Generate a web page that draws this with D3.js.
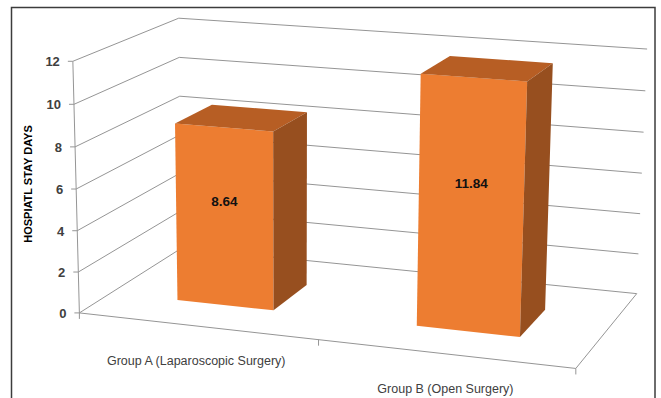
<!DOCTYPE html>
<html>
<head>
<meta charset="utf-8">
<script src="https://cdn.jsdelivr.net/npm/d3@7"></script>
<style>
  body { margin: 0; background: #fff; }
  svg { display: block; }
</style>
</head>
<body>
<script>
// ---- data ----
const categories = ["Group A (Laparoscopic Surgery)", "Group B (Open Surgery)"];
const stayDays = [8.64, 11.84];
const tickValues = [0, 2, 4, 6, 8, 10, 12];
const tickLabels = ["0", "2", "4", "6", "8", "10", "12"];
const axisTitle = "HOSPIATL STAY DAYS";

const W = 661, H = 398;
const svg = d3.select("body").append("svg").attr("width", W).attr("height", H);

// ---- perspective camera ----
// Plot box in normalised coordinates: u across, v up, w into the page.
// Each pair gives a box corner and where it sits on the page.
const anchors = [
  [[0, 0, 0], [81, 312]],
  [[0, 1, 0], [72, 62]],
  [[0, 0, 1], [180, 249]],
  [[0, 1, 1], [180, 18]],
  [[1, 0, 1], [637, 293]],
  [[1, 1, 1], [647, 49]],
  [[1, 0, 0], [576, 369]],
  [[0, 10 / 12, 0], [73, 104]],
  [[0, 10 / 12, 1], [180, 57]],
  [[1, 10 / 12, 1], [645, 91]]
];

function solveLinear(A, b) {
  const n = b.length;
  const M = A.map((r, i) => [...r, b[i]]);
  for (let c = 0; c < n; c++) {
    let p = c;
    for (let r = c + 1; r < n; r++) if (Math.abs(M[r][c]) > Math.abs(M[p][c])) p = r;
    [M[c], M[p]] = [M[p], M[c]];
    for (let r = 0; r < n; r++) {
      if (r === c) continue;
      const f = M[r][c] / M[c][c];
      for (let k = c; k <= n; k++) M[r][k] -= f * M[c][k];
    }
  }
  return M.map((r, i) => r[n] / r[i]);
}

// Least-squares 3x4 projection matrix (last entry fixed to 1)
function fitCamera(pts) {
  const rows = [], rhs = [];
  pts.forEach(([[u, v, w], [px, py]]) => {
    rows.push([u, v, w, 1, 0, 0, 0, 0, -px * u, -px * v, -px * w]); rhs.push(px);
    rows.push([0, 0, 0, 0, u, v, w, 1, -py * u, -py * v, -py * w]); rhs.push(py);
  });
  const n = 11;
  const AtA = Array.from({ length: n }, () => new Array(n).fill(0));
  const Atb = new Array(n).fill(0);
  rows.forEach((r, i) => {
    for (let a = 0; a < n; a++) {
      Atb[a] += r[a] * rhs[i];
      for (let b = 0; b < n; b++) AtA[a][b] += r[a] * r[b];
    }
  });
  return solveLinear(AtA, Atb);
}
const m = fitCamera(anchors);
function P(u, v, w) {
  const d = m[8] * u + m[9] * v + m[10] * w + 1;
  return [(m[0] * u + m[1] * v + m[2] * w + m[3]) / d,
          (m[4] * u + m[5] * v + m[6] * w + m[7]) / d];
}

// ---- scales ----
const yScale = d3.scaleLinear().domain([0, 12]).range([0, 1]);
const xScale = d3.scaleBand().domain(categories).range([0, 1])
  .paddingInner(0.59).paddingOuter(0.29);
const depth = [0.29, 0.66];

const line = d3.line();
const gridColor = "#959595";

// ---- walls: gridlines on side and back walls ----
const grid = svg.append("g").attr("fill", "none").attr("stroke", gridColor).attr("stroke-width", 1);
tickValues.forEach(t => {
  const v = yScale(t);
  grid.append("path").attr("d", line([P(0, v, 0), P(0, v, 1), P(1, v, 1)]));
});
// floor outline and value axis
grid.append("path").attr("d", line([P(0, 0, 0), P(1, 0, 0), P(1, 0, 1)]));
grid.append("path").attr("d", line([P(0, 0, 0), P(0, 1, 0)]));
// value axis ticks
tickValues.forEach(t => {
  const p = P(0, yScale(t), 0);
  grid.append("path").attr("d", line([[p[0] - 5, p[1]], p]));
});
// category boundary ticks
d3.range(categories.length + 1).forEach(i => {
  const p = P(i / categories.length, 0, 0);
  grid.append("path").attr("d", line([p, [p[0], p[1] + 6]]));
});

// ---- tick labels ----
const tickG = svg.append("g")
  .attr("font-family", "'Liberation Sans', Arial, sans-serif")
  .attr("font-size", 13).attr("font-weight", "bold").attr("fill", "#404040")
  .attr("text-anchor", "end");
tickValues.forEach((t, i) => {
  const p = P(0, yScale(t), 0);
  tickG.append("text").attr("x", p[0] - 13).attr("y", p[1] + 5).text(tickLabels[i]);
});

// ---- axis title ----
svg.append("text")
  .attr("transform", "translate(32,184) rotate(-90)")
  .attr("text-anchor", "middle")
  .attr("font-family", "'Liberation Sans', Arial, sans-serif")
  .attr("font-size", 11).attr("font-weight", "bold").attr("fill", "#000")
  .text(axisTitle);

// ---- bars ----
const faceColors = { front: "#ED7D31", top: "#B75E24", side: "#974F1F" };
const bars = svg.append("g");
categories.forEach((c, i) => {
  const u0 = xScale(c), u1 = u0 + xScale.bandwidth();
  const v1 = yScale(stayDays[i]);
  const [w0, w1] = depth;
  const g = bars.append("g");
  g.append("path").attr("fill", faceColors.front)
    .attr("d", line([P(u0, 0, w0), P(u1, 0, w0), P(u1, v1, w0), P(u0, v1, w0)]) + "Z");
  g.append("path").attr("fill", faceColors.top)
    .attr("d", line([P(u0, v1, w0), P(u1, v1, w0), P(u1, v1, w1), P(u0, v1, w1)]) + "Z");
  g.append("path").attr("fill", faceColors.side)
    .attr("d", line([P(u1, 0, w0), P(u1, 0, w1), P(u1, v1, w1), P(u1, v1, w0)]) + "Z");

  // value label on the front face
  const uc = (u0 + u1) / 2;
  const lp = P(uc, v1 * 0.59, w0);
  g.append("text").attr("x", lp[0]).attr("y", lp[1])
    .attr("text-anchor", "middle").attr("dominant-baseline", "central")
    .attr("font-family", "'Liberation Sans', Arial, sans-serif")
    .attr("font-size", 13.5).attr("font-weight", "bold").attr("fill", "#111")
    .text(d3.format(".2f")(stayDays[i]));
});

// ---- category labels ----
const catG = svg.append("g")
  .attr("font-family", "'Liberation Sans', Arial, sans-serif")
  .attr("font-size", 12.5).attr("fill", "#404040").attr("text-anchor", "middle");
categories.forEach(c => {
  const p = P(xScale(c) + xScale.bandwidth() / 2, 0, 0);
  catG.append("text").attr("x", p[0]).attr("y", p[1] + 39).text(c);
});

// ---- chart frame ----
svg.append("rect")
  .attr("x", 11.5).attr("y", 7.5).attr("width", 643.5).attr("height", 420)
  .attr("fill", "none").attr("stroke", "#3c3c3c").attr("stroke-width", 1.5);
</script>
</body>
</html>
